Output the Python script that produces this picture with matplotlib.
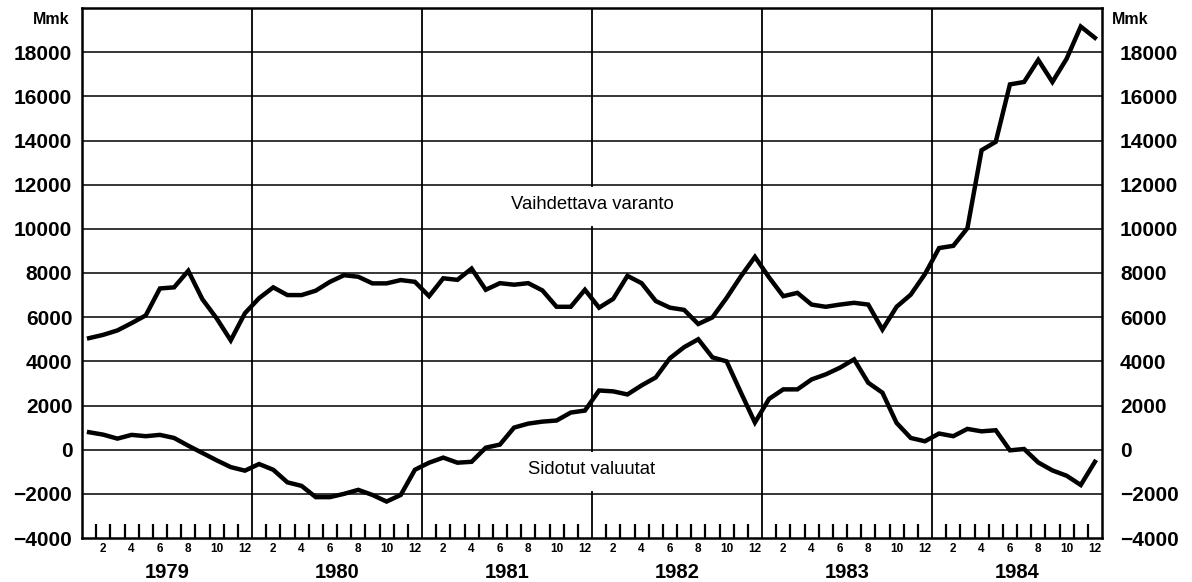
import numpy as np
import matplotlib.pyplot as plt
from matplotlib.patches import Rectangle

# ---------------------------------------------------------
# Data (Mmk), monthly 1979-1984
# ---------------------------------------------------------
years = [1979, 1980, 1981, 1982, 1983, 1984]
month_labels = ["2", "4", "6", "8", "10", "12"]

vaihdettava = [
    5050, 5200, 5400, 5730, 6080, 7300, 7350, 8100, 6810, 5950, 4950, 6180,
    6860, 7350, 7000, 7000, 7200, 7600, 7900, 7830, 7530, 7530, 7680, 7600,
    6950, 7760, 7690, 8200, 7240, 7540, 7470, 7540, 7210, 6470, 6470, 7240,
    6430, 6830, 7870, 7540, 6730, 6430, 6330, 5690, 5990, 6870, 7840, 8730,
    7800, 6950, 7100, 6570, 6470, 6570, 6650, 6570, 5440, 6470, 7020, 7950,
    9130, 9230, 10030, 13560, 13940, 16540, 16650, 17650, 16650, 17700, 19160, 18650,
]

sidotut = [
    790, 680, 500, 670, 610, 670, 530, 180, -150, -480, -790, -950,
    -650, -910, -1480, -1640, -2150, -2150, -2000, -1820, -2050, -2350, -2050, -910,
    -590, -360, -590, -550, 90, 230, 1000, 1180, 1270, 1320, 1680, 1770,
    2680, 2640, 2500, 2910, 3270, 4140, 4640, 5000, 4180, 4000, 2600, 1230,
    2300, 2730, 2730, 3180, 3410, 3710, 4090, 3030, 2580, 1210, 530, 380,
    730, 610, 940, 830, 880, -30, 30, -580, -940, -1180, -1600, -550,
]

y_ticks = list(range(-4000, 20000, 2000))
y_labels = [str(v).replace("-", "\u2212") for v in y_ticks]

# ---------------------------------------------------------
# Plot
# ---------------------------------------------------------
plt.rcParams['font.family'] = ['Liberation Sans', 'DejaVu Sans']

fig = plt.figure(figsize=(11.92, 5.82), dpi=100)
ax = fig.add_axes([82 / 1192, 44 / 582, 1020 / 1192, 530 / 582])

n = len(vaihdettava)
x = np.arange(n) + 0.5

ax.set_xlim(0, n)
ax.set_ylim(-4000, 20000)

# horizontal grid
for yv in y_ticks[1:]:
    ax.axhline(yv, color='black', linewidth=1.1, zorder=1)

# year separators
for k in range(1, len(years)):
    ax.axvline(12 * k, color='black', linewidth=1.3, zorder=1)

# month tick marks at the bottom (inside)
for m in range(1, n):
    if m % 12 != 0:
        ax.plot([m, m], [-4000, -3350], color='black', linewidth=1.6,
                solid_capstyle='butt', zorder=2)

# white patches behind the series names (break the year line there)
ax.add_patch(Rectangle((31, 10120), 10, 1760, facecolor='white',
                       edgecolor='none', zorder=1.5))
ax.add_patch(Rectangle((31, -1880), 10, 1760, facecolor='white',
                       edgecolor='none', zorder=1.5))

ax.plot(x, vaihdettava, color='black', linewidth=3.2, solid_joinstyle='miter', zorder=3)
ax.plot(x, sidotut, color='black', linewidth=3.2, solid_joinstyle='miter', zorder=3)

ax.text(36, 11100, "Vaihdettava varanto", ha='center', va='center', fontsize=13.3, zorder=4)
ax.text(36, -900, "Sidotut valuutat", ha='center', va='center', fontsize=13.3, zorder=4)

# y tick labels on both sides
ax.set_yticks(y_ticks)
ax.set_yticklabels(y_labels, fontsize=15, fontweight='bold')
ax.tick_params(axis='y', length=0, pad=7)
ax.set_xticks([])

ax_r = ax.twinx()
ax_r.set_ylim(ax.get_ylim())
ax_r.set_yticks(y_ticks)
ax_r.set_yticklabels(y_labels, fontsize=15, fontweight='bold')
ax_r.tick_params(axis='y', length=0, pad=13)
for sp in ax_r.spines.values():
    sp.set_visible(False)

# month labels and year labels
for k, yr in enumerate(years):
    for j, lab in enumerate(month_labels):
        mpos = 12 * k + 2 * (j + 1) - 0.5
        ax.text(mpos, -4500, lab, ha='center', va='center', fontsize=8.5,
                fontweight='bold')
    ax.text(12 * k + 6, -5550, str(yr), ha='center', va='center', fontsize=14.5,
            fontweight='bold')

ax.text(-0.9, 19500, "Mmk", ha='right', va='center', fontsize=11.5, fontweight='bold')
ax.text(n + 0.7, 19500, "Mmk", ha='left', va='center', fontsize=11.5, fontweight='bold')

for sp in ax.spines.values():
    sp.set_linewidth(1.8)

fig.savefig("out.png", dpi=100)
plt.close(fig)
